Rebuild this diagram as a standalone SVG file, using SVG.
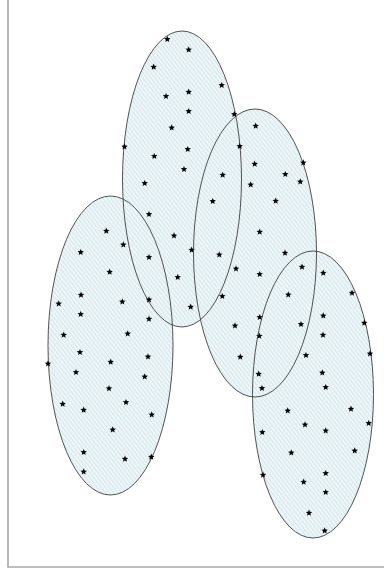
<svg xmlns="http://www.w3.org/2000/svg" width="384" height="571" viewBox="0 0 384 571">
<style>
.fill{fill:url(#hatch);stroke:none}
.edge{fill:none;stroke:#404040;stroke-width:0.9}
.frame{stroke:#a9a9a9;stroke-width:1.6;fill:none}
</style>
<defs>
<pattern id="hatch" patternUnits="userSpaceOnUse" width="3.2" height="3.2" patternTransform="rotate(-38)">
<rect width="3.2" height="3.2" fill="#eef6f8"/>
<line x1="0.5" y1="0" x2="0.5" y2="3.2" stroke="#d3e6ec" stroke-width="1"/>
</pattern>
<path id="s" d="M0,-3.4 L0.9,-1.24 L3.23,-1.05 L1.46,0.47 L2,2.75 L0,1.53 L-2,2.75 L-1.46,0.47 L-3.23,-1.05 L-0.9,-1.24 Z" fill="#000"/>
</defs>
<rect width="384" height="571" fill="#fff"/>
<path class="frame" d="M8,0 V567 H384"/>
<g id="fills">
<ellipse class="fill" cx="182" cy="179" rx="59.5" ry="148"/>
<ellipse class="fill" cx="110.5" cy="345.5" rx="62.5" ry="149.5"/>
<ellipse class="fill" cx="255" cy="253" rx="61.5" ry="144"/>
<ellipse class="fill" cx="313" cy="394.5" rx="60.5" ry="143.5"/>
</g>
<g id="connectors"/>
<g id="clusterA">
<ellipse class="edge" cx="182" cy="179" rx="59.5" ry="148"/>
<use href="#s" x="167.3" y="39.3"/><use href="#s" x="188.7" y="49.7"/><use href="#s" x="153.7" y="67"/>
<use href="#s" x="166" y="96.3"/><use href="#s" x="188.7" y="92"/><use href="#s" x="188.7" y="111.3"/>
<use href="#s" x="171.7" y="127.7"/><use href="#s" x="187.7" y="149.3"/><use href="#s" x="154.3" y="156.3"/>
<use href="#s" x="184" y="169.3"/><use href="#s" x="144.7" y="183.3"/><use href="#s" x="124.5" y="146.7"/>
<use href="#s" x="221.7" y="85.3"/><use href="#s" x="234.3" y="114.3"/><use href="#s" x="239.7" y="146.3"/>
<use href="#s" x="222.7" y="175"/><use href="#s" x="212.7" y="201.3"/><use href="#s" x="149" y="214.3"/>
<use href="#s" x="174" y="235.7"/><use href="#s" x="191.7" y="250"/><use href="#s" x="149" y="257.3"/>
<use href="#s" x="177.7" y="277.3"/><use href="#s" x="219.3" y="254.7"/><use href="#s" x="190.7" y="307"/>
</g>
<g id="clusterB">
<ellipse class="edge" cx="110.5" cy="345.5" rx="62.5" ry="149.5"/>
<use href="#s" x="106.3" y="231"/><use href="#s" x="123.3" y="244.7"/><use href="#s" x="80.7" y="252.3"/>
<use href="#s" x="109.7" y="272"/><use href="#s" x="81" y="295"/><use href="#s" x="58.7" y="303.7"/>
<use href="#s" x="122.3" y="301.7"/><use href="#s" x="149" y="299.7"/><use href="#s" x="80.7" y="314.3"/>
<use href="#s" x="149" y="319"/><use href="#s" x="63.7" y="335"/><use href="#s" x="127.7" y="333.7"/>
<use href="#s" x="80" y="352.3"/><use href="#s" x="110.7" y="362"/><use href="#s" x="148" y="356.7"/>
<use href="#s" x="48" y="363.7"/><use href="#s" x="76" y="372.3"/><use href="#s" x="144.7" y="376.7"/>
<use href="#s" x="109" y="388.5"/><use href="#s" x="62.7" y="404"/><use href="#s" x="83.7" y="410"/>
<use href="#s" x="126" y="402.3"/><use href="#s" x="151.7" y="414.7"/><use href="#s" x="112.7" y="429.7"/>
<use href="#s" x="83.7" y="452.3"/><use href="#s" x="125" y="459"/><use href="#s" x="151.3" y="457"/>
<use href="#s" x="83.7" y="471.7"/>
</g>
<g id="clusterC">
<ellipse class="edge" cx="255" cy="253" rx="61.5" ry="144"/>
<use href="#s" x="255.7" y="126"/><use href="#s" x="254.7" y="164"/><use href="#s" x="285.3" y="174.3"/>
<use href="#s" x="300.3" y="181.7"/><use href="#s" x="250.7" y="184.7"/><use href="#s" x="275.7" y="201"/>
<use href="#s" x="303.3" y="162.7"/><use href="#s" x="259.7" y="232"/><use href="#s" x="285" y="253"/>
<use href="#s" x="236" y="268.7"/><use href="#s" x="259.7" y="274.3"/><use href="#s" x="222.3" y="296.3"/>
<use href="#s" x="288.3" y="294.7"/><use href="#s" x="259.7" y="317.3"/><use href="#s" x="235" y="325.7"/>
<use href="#s" x="259.3" y="336"/><use href="#s" x="240.3" y="357"/><use href="#s" x="258.7" y="374"/>
<use href="#s" x="262" y="388.3"/>
</g>
<g id="clusterD">
<ellipse class="edge" cx="313" cy="394.5" rx="60.5" ry="143.5"/>
<use href="#s" x="302" y="267"/><use href="#s" x="323.3" y="273"/><use href="#s" x="352" y="293"/>
<use href="#s" x="323.3" y="315.7"/><use href="#s" x="301" y="324.3"/><use href="#s" x="364.3" y="323"/>
<use href="#s" x="323" y="335"/><use href="#s" x="306" y="355.3"/><use href="#s" x="370" y="353.7"/>
<use href="#s" x="322.3" y="372.7"/><use href="#s" x="325.7" y="387.3"/><use href="#s" x="287.7" y="410.7"/>
<use href="#s" x="351" y="409"/><use href="#s" x="305" y="424.7"/><use href="#s" x="325.7" y="430.7"/>
<use href="#s" x="368.7" y="423.3"/><use href="#s" x="262.3" y="432.3"/><use href="#s" x="291.3" y="452.7"/>
<use href="#s" x="354.7" y="450.7"/><use href="#s" x="263" y="475"/><use href="#s" x="325.7" y="473.3"/>
<use href="#s" x="303.7" y="482"/><use href="#s" x="325.7" y="492.3"/><use href="#s" x="309" y="513"/>
<use href="#s" x="324.7" y="530.7"/>
</g>
</svg>
